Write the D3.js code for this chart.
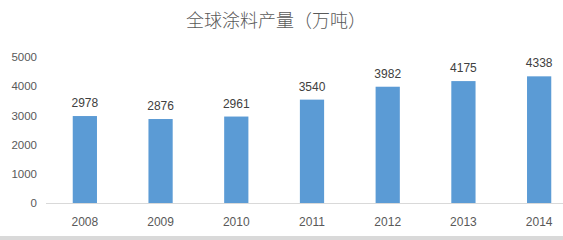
<!DOCTYPE html>
<html>
<head>
<meta charset="utf-8">
<script src="https://cdn.jsdelivr.net/npm/d3@7"></script>
<style>
  body { margin: 0; background: #fff; }
  svg { display: block; }
</style>
</head>
<body>
<div id="chart"></div>
<script>
// data
var years = ["2008", "2009", "2010", "2011", "2012", "2013", "2014"];
var output = [2978, 2876, 2961, 3540, 3982, 4175, 4338];
var yTicks = [0, 1000, 2000, 3000, 4000, 5000];
var title = "全球涂料产量（万吨）";

var W = 563, H = 240;
var numFont = "'Liberation Sans', Arial, sans-serif";

var svg = d3.select("#chart").append("svg")
  .attr("width", W)
  .attr("height", H);

// bottom grey strip
svg.append("rect")
  .attr("x", 0).attr("y", 236)
  .attr("width", W).attr("height", 4)
  .attr("fill", "#d9d9d9");

svg.append("text")
  .attr("x", 276).attr("y", 27)
  .attr("text-anchor", "middle")
  .attr("font-family", "'Noto Sans CJK SC', sans-serif")
  .attr("font-size", 18)
  .attr("font-weight", 300)
  .attr("fill", "#595959")
  .text(title);

//scales
var x = d3.scaleBand().domain(years).range([47, 577]).paddingInner(0.68).paddingOuter(0.34);
var y = d3.scaleLinear().domain([0, 5000]).range([203, 57]);

// y labels (no axis line)
var yAxis = d3.axisLeft(y).tickValues(yTicks).tickSize(0).tickPadding(0).tickFormat(d3.format("d"));
var gy = svg.append("g").attr("transform", "translate(37,0)").call(yAxis);
gy.select(".domain").remove();
gy.selectAll("text")
  .attr("font-family", numFont)
  .attr("font-size", 11.5)
  .attr("fill", "#595959");

// bars
svg.selectAll(".bar")
  .data(output)
  .enter().append("rect")
  .attr("class", "bar")
  .attr("x", function(d, i) { return x(years[i]); })
  .attr("y", function(d) { return y(d); })
  .attr("width", x.bandwidth())
  .attr("height", function(d) { return y(0) - y(d); })
  .attr("fill", "#5b9bd5");

// value labels
svg.selectAll(".val")
  .data(output)
  .enter().append("text")
  .attr("class", "val")
  .attr("x", function(d, i) { return x(years[i]) + x.bandwidth() / 2; })
  .attr("y", function(d) { return y(d) - 9; })
  .attr("text-anchor", "middle")
  .attr("font-family", numFont)
  .attr("font-size", 12)
  .attr("fill", "#404040")
  .text(function(d) { return d; });

// x axis
var xAxis = d3.axisBottom(x).tickSize(0).tickPadding(14);
var gx = svg.append("g").attr("transform", "translate(0,203)").call(xAxis);
gx.select(".domain").attr("stroke", "#d9d9d9").attr("d", "M46,0.5H563");
gx.selectAll("text")
  .attr("font-family", numFont)
  .attr("font-size", 12)
  .attr("fill", "#595959");
</script>
</body>
</html>
